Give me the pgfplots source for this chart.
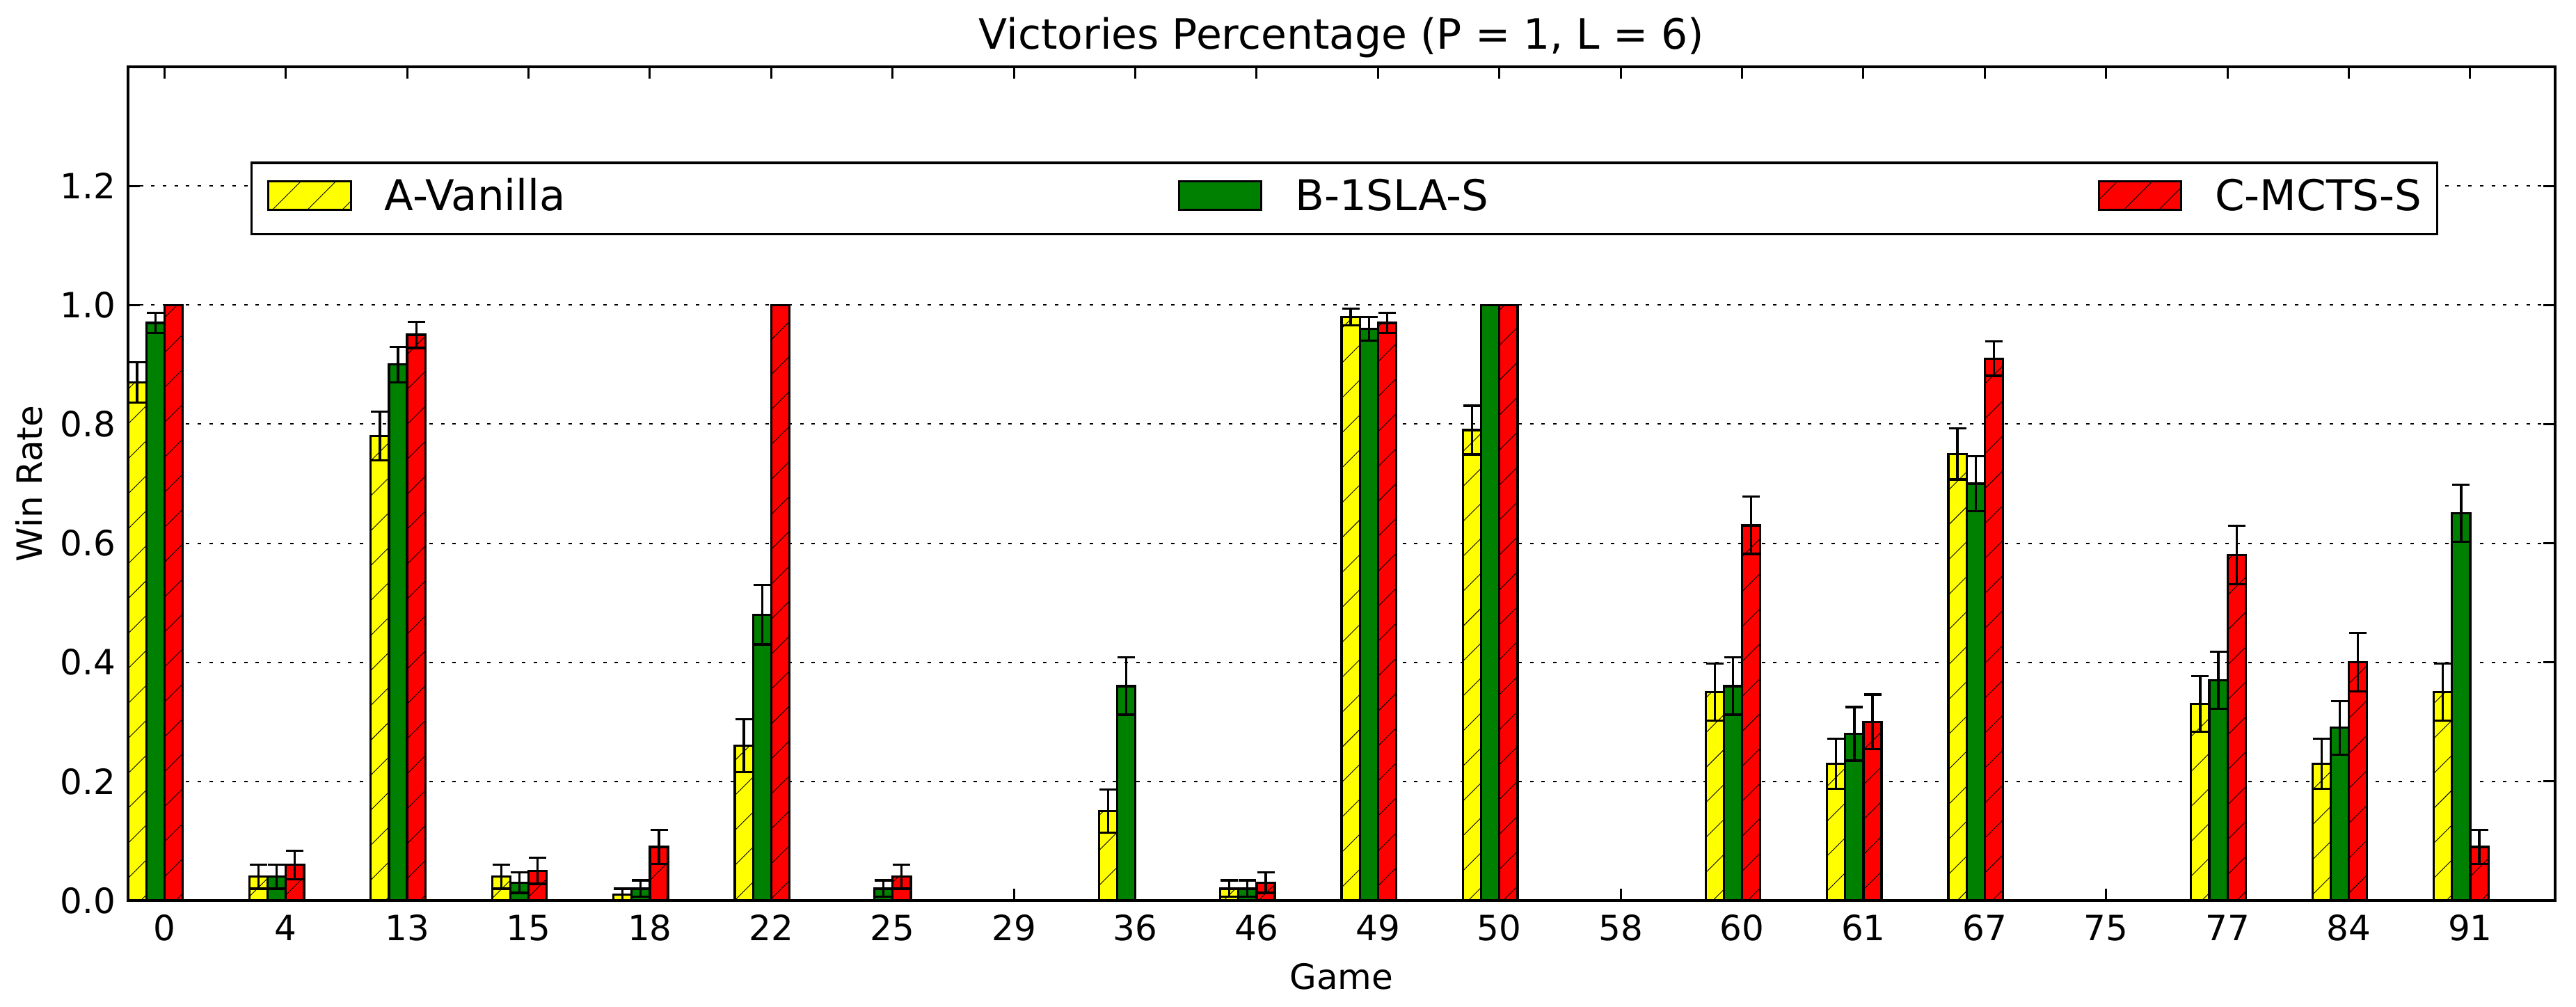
\documentclass[border=0pt]{standalone}
\usepackage{fontspec}
\setmainfont{DejaVu Sans}
\usepackage{pgfplots}
\usepackage{pgfplotstable}
\pgfplotsset{compat=1.18}
\usetikzlibrary{patterns.meta}

\definecolor{mplyellow}{RGB}{255,255,0}
\definecolor{mplgreen}{RGB}{0,128,0}
\definecolor{mplred}{RGB}{255,0,0}

% win rate per game and its standard error for each agent
\pgfplotstableread{
i a ea b eb c ec
0 0.87 0.034 0.97 0.017 1.00 0.000
1 0.04 0.020 0.04 0.020 0.06 0.024
2 0.78 0.041 0.90 0.030 0.95 0.022
3 0.04 0.020 0.03 0.017 0.05 0.022
4 0.01 0.010 0.02 0.014 0.09 0.029
5 0.26 0.044 0.48 0.050 1.00 0.000
6 0.00 0.000 0.02 0.014 0.04 0.020
7 0.00 0.000 0.00 0.000 0.00 0.000
8 0.15 0.036 0.36 0.048 0.00 0.000
9 0.02 0.014 0.02 0.014 0.03 0.017
10 0.98 0.014 0.96 0.020 0.97 0.017
11 0.79 0.041 1.00 0.000 1.00 0.000
12 0.00 0.000 0.00 0.000 0.00 0.000
13 0.35 0.048 0.36 0.048 0.63 0.048
14 0.23 0.042 0.28 0.045 0.30 0.046
15 0.75 0.043 0.70 0.046 0.91 0.029
16 0.00 0.000 0.00 0.000 0.00 0.000
17 0.33 0.047 0.37 0.048 0.58 0.049
18 0.23 0.042 0.29 0.045 0.40 0.049
19 0.35 0.048 0.65 0.048 0.09 0.029
}\wintable

\tikzset{
  hatched/.style={postaction={pattern={Lines[angle=45,distance=7.1pt,line width=0.18pt]}}},
}

\begin{document}
\begin{tikzpicture}
\begin{axis}[
  at={(0,0)}, anchor=south west,
  scale only axis,
  width=697.6pt, height=239.6pt,
  xmin=-0.3, xmax=19.7,
  ymin=0, ymax=1.4,
  xtick={0,...,19},
  xticklabels={0,4,13,15,18,22,25,29,36,46,49,50,58,60,61,67,75,77,84,91},
  ytick={0,0.2,0.4,0.6,0.8,1.0,1.2},
  yticklabel style={/pgf/number format/.cd, fixed, fixed zerofill, precision=1},
  /pgf/number format/assume math mode=true,
  tick label style={font=\fontsize{10}{12}\selectfont, black},
  xticklabel style={anchor=base, yshift=-11.5pt},
  label style={font=\fontsize{10}{12}\selectfont},
  xtick pos=both, ytick pos=both,
  xticklabel pos=left, yticklabel pos=left,
  tick align=inside,
  major tick length=3.5pt,
  tick style={black, line width=0.6pt},
  axis line style={line width=0.7pt},
  ymajorgrids,
  grid style={black, line width=0.4pt, dash pattern=on 1pt off 2.33pt},
  title={Victories Percentage (P = 1, L = 6)},
  every axis title/.style={at={(axis description cs:0.5,1.0209)}, anchor=base,
    font=\fontsize{12}{14}\selectfont},
  xlabel={Game},
  every axis x label/.style={at={(axis description cs:0.5,-0.106)}, anchor=base},
  ylabel={Win Rate},
  every axis y label/.style={at={(axis description cs:-0.0353,0.5)}, rotate=90, anchor=base},
  bar width=0.15,
  legend columns=3,
  legend style={
    at={(0.0505,0.8861)}, anchor=north west,
    draw=black, line width=0.65pt,
    inner xsep=4.5pt, inner ysep=4.6pt,
    font=\fontsize{12.2}{14}\selectfont,
    nodes={inner sep=0pt, anchor=base west, text height=9.1pt, text depth=2.2pt},
    /tikz/every odd column/.append style={column sep=9.4pt},
  },
  legend image code/.code={\draw[#1, line width=0.6pt] (0.3pt,0.3pt) rectangle (24pt,8.4pt);},
  every axis plot/.append style={line width=0.65pt},
  error bars/error bar style={black, line width=0.65pt},
  error bars/error mark options={rotate=90, black, mark size=2.5pt, line width=0.65pt},
]
\addplot[ybar, bar shift=0pt, draw=black, fill=mplyellow, hatched,
  error bars/.cd, y dir=both, y explicit]
  table[x expr=\thisrow{i}-0.225, y=a, y error=ea] {\wintable};
\addlegendentry{\makebox[228pt][l]{A-Vanilla}}
\addplot[ybar, bar shift=0pt, draw=black, fill=mplgreen,
  error bars/.cd, y dir=both, y explicit]
  table[x expr=\thisrow{i}-0.075, y=b, y error=eb] {\wintable};
\addlegendentry{\makebox[230.7pt][l]{B-1SLA-S}}
\addplot[ybar, bar shift=0pt, draw=black, fill=mplred, hatched,
  error bars/.cd, y dir=both, y explicit]
  table[x expr=\thisrow{i}+0.075, y=c, y error=ec] {\wintable};
\addlegendentry{C-MCTS-S}
\end{axis}
\path (-36.8pt,-30.4pt) rectangle (703.6pt,258.8pt);
\end{tikzpicture}
\end{document}
